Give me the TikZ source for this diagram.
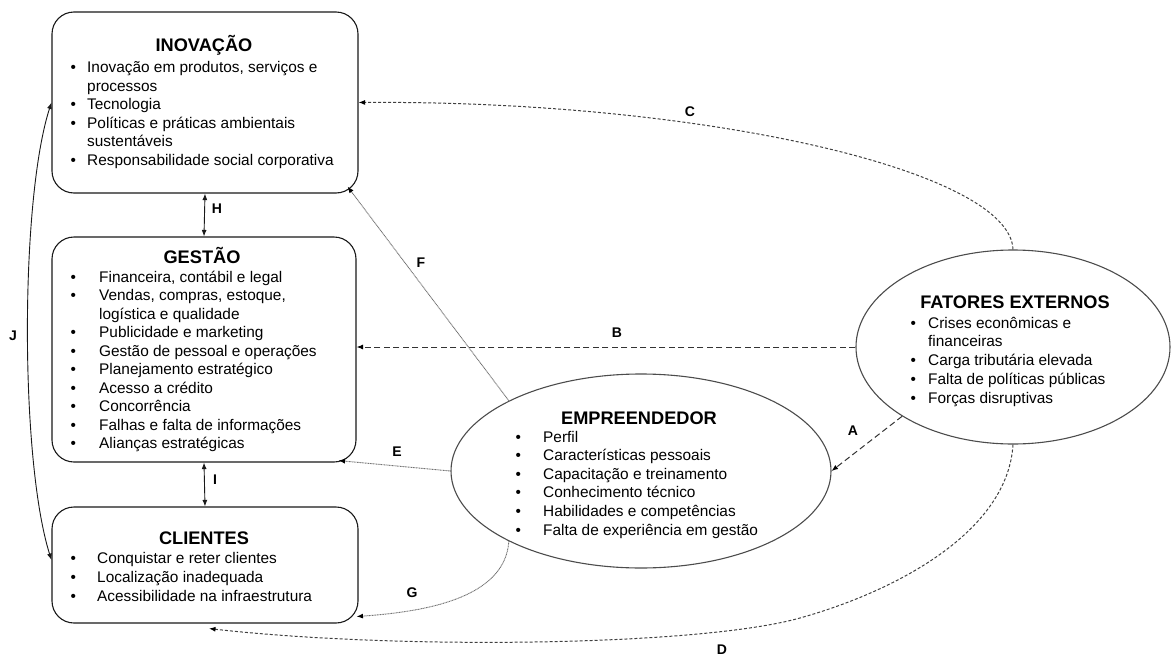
\documentclass[tikz,border=0pt]{standalone}
\usepackage{fontspec}
\setmainfont{Liberation Sans}
\usetikzlibrary{shapes.geometric,arrows.meta,calc}
\begin{document}
\begin{tikzpicture}[x=1pt,y=-1pt,
  box/.style={draw=black!90, line width=1.1pt, rounded corners=22pt, inner sep=0pt, minimum width=306pt},
  oval/.style={draw=black!70, line width=1.1pt, ellipse, inner sep=0pt},
  ttl/.style={anchor=base, font=\fontsize{18.2}{20}\selectfont\bfseries, inner sep=0pt},
  lst/.style={anchor=base west, inner sep=0pt, font=\fontsize{15.4}{18.6}\selectfont},
  lbl/.style={font=\fontsize{14}{16}\selectfont\bfseries, inner sep=0pt},
  tip/.style={-{Latex[length=6.5pt,width=5pt,color=black]}},
  dbl/.style={{Latex[length=6.5pt,width=5pt]}-{Latex[length=6.5pt,width=5pt]}, draw=black!90, line width=0.9pt},
  dashsmall/.style={tip, draw=black!75, line width=1pt, dash pattern=on 3pt off 2pt},
  dashlong/.style={tip, draw=black!80, line width=1pt, dash pattern=on 6pt off 3.5pt},
  dots/.style={tip, draw=black!55, line width=0.9pt, dash pattern=on 1pt off 0.6pt},
]
\useasboundingbox (0,0) rectangle (1171,656);

% shapes
\node[box, minimum height=181pt] (inov) at (205,102.5) {};
\node[box, minimum height=225pt, minimum width=304pt] (gest) at (204,349.5) {};
\node[box, minimum height=116pt] (clien) at (205,565) {};
\node[oval, minimum width=380pt, minimum height=194pt] (emp) at (641,471) {};
\node[oval, minimum width=314pt, minimum height=194pt] (fat) at (1013,347) {};

% titles
\node[ttl] (inovttl) at (204,51.5) {INOVAÇÃO};
\node[ttl] (gestttl) at (202,263) {GESTÃO};
\node[ttl] (clienttl) at (204,544) {CLIENTES};
\node[ttl] (empttl) at (639,424) {EMPREENDEDOR};
\node[ttl] (fatttl) at (1015,308) {FATORES EXTERNOS};

% lists
\node[lst] (inovlst) at (70.4,72.5) {\begin{tabular}[t]{@{}p{16.6pt}@{}l@{}}
\textbullet & Inovação em produtos, serviços e\\
 & processos\\
\textbullet & Tecnologia\\
\textbullet & Políticas e práticas ambientais\\
 & sustentáveis\\
\textbullet & Responsabilidade social corporativa
\end{tabular}};

\node[lst, font=\fontsize{15.4}{18.5}\selectfont] (gestlst) at (70.4,282) {\begin{tabular}[t]{@{}p{28.6pt}@{}l@{}}
\textbullet & Financeira, contábil e legal\\
\textbullet & Vendas, compras, estoque,\\
 & logística e qualidade\\
\textbullet & Publicidade e marketing\\
\textbullet & Gestão de pessoal e operações\\
\textbullet & Planejamento estratégico\\
\textbullet & Acesso a crédito\\
\textbullet & Concorrência\\
\textbullet & Falhas e falta de informações\\
\textbullet & Alianças estratégicas
\end{tabular}};

\node[lst, font=\fontsize{15.4}{19}\selectfont] (clienlst) at (70.4,563) {\begin{tabular}[t]{@{}p{26.6pt}@{}l@{}}
\textbullet & Conquistar e reter clientes\\
\textbullet & Localização inadequada\\
\textbullet & Acessibilidade na infraestrutura
\end{tabular}};

\node[lst] (emplst) at (515.4,442) {\begin{tabular}[t]{@{}p{27.6pt}@{}l@{}}
\textbullet & Perfil\\
\textbullet & Características pessoais\\
\textbullet & Capacitação e treinamento\\
\textbullet & Conhecimento técnico\\
\textbullet & Habilidades e competências\\
\textbullet & Falta de experiência em gestão
\end{tabular}};

\node[lst, font=\fontsize{15.4}{18.75}\selectfont] (fatlst) at (910.4,328) {\begin{tabular}[t]{@{}p{17.6pt}@{}l@{}}
\textbullet & Crises econômicas e\\
 & financeiras\\
\textbullet & Carga tributária elevada\\
\textbullet & Falta de políticas públicas\\
\textbullet & Forças disruptivas
\end{tabular}};

% connectors
\draw[dbl] (inov.south) -- (gest.north);
\draw[dbl] (gest.south) -- (clien.north);
\draw[dbl] (inov.west) .. controls (20,200) and (20,460) .. ($(clien.west)+(0,-5)$);
\draw[dashsmall] (fat.north) .. controls (1010,170) and (700,100) .. (inov.east);
\draw[dashsmall] (fat.south) .. controls (1008,530) and (900,590) .. (800,618)
   .. controls (700,646) and (400,650) .. ($(clien.south)+(4,5)$);
\draw[dashlong] (fat.212) -- (emp.east);
\draw[dashlong] (fat.west) -- (fat.west -| gest.east);
\draw[dots] (emp.west) -- ($(gest.south east)+(-18,-2)$);
\draw[dots] (emp.152) -- ($(inov.south east)+(-11,-7)$);
\draw[dots] (emp.208) .. controls (505,600) and (420,612) .. ($(clien.south east)+(-2,-7)$);

% labels
\node[lbl] (lA) at (853,431) {A};
\node[lbl] (lB) at (617,333) {B};
\node[lbl] (lC) at (690,112) {C};
\node[lbl] (lD) at (722,650) {D};
\node[lbl] (lE) at (397,452) {E};
\node[lbl] (lF) at (421,263) {F};
\node[lbl] (lG) at (412,593) {G};
\node[lbl] (lH) at (217,209) {H};
\node[lbl] (lI) at (215,480) {I};
\node[lbl] (lJ) at (13,336) {J};
\end{tikzpicture}
\end{document}
